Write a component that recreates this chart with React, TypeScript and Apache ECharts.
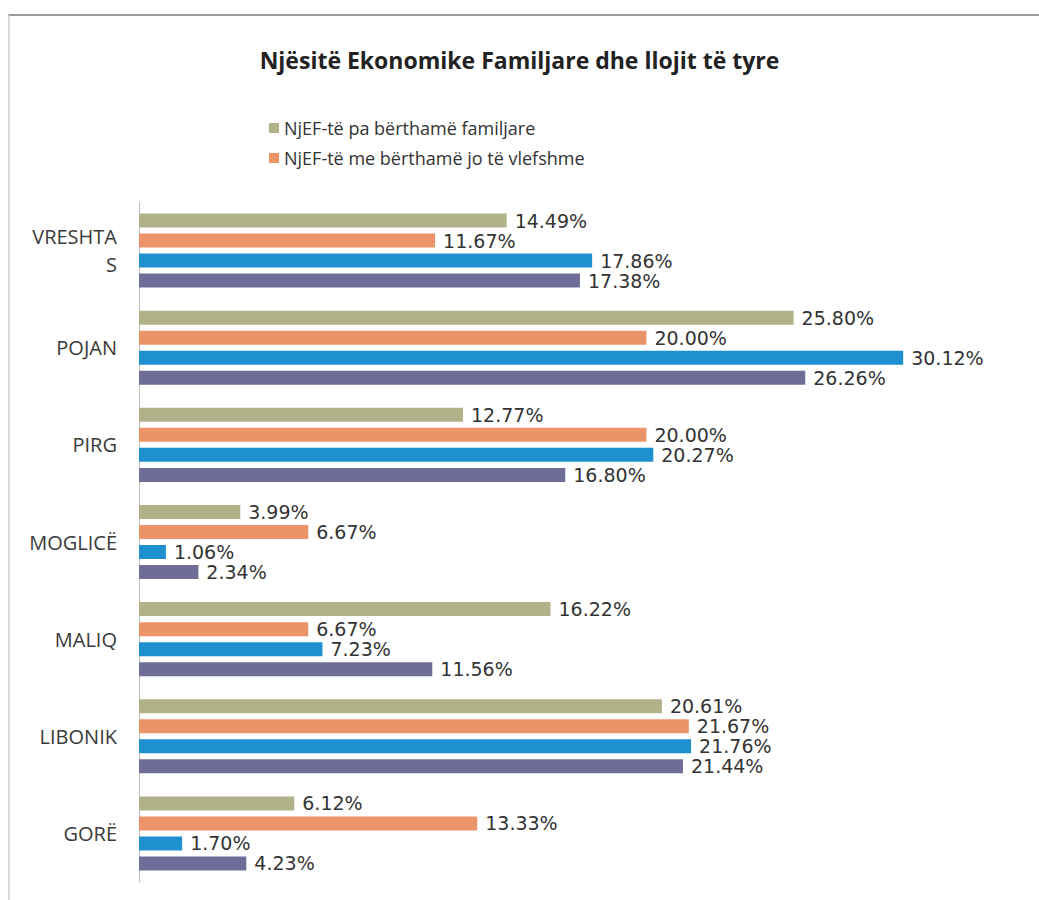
import React, { useEffect, useRef } from "react";
import * as echarts from "echarts";

const categories = ["VRESHTA\nS", "POJAN", "PIRG", "MOGLICË", "MALIQ", "LIBONIK", "GORË"];
const seriesNames = [
  "NjEF-të pa bërthamë familjare",
  "NjEF-të me bërthamë jo të vlefshme",
  "NjEF-të me një bërthamë familjare",
  "NjEF-të me më shumë bërthama familjare",
];
const seriesA = [14.49, 25.8, 12.77, 3.99, 16.22, 20.61, 6.12];
const seriesB = [11.67, 20.0, 20.0, 6.67, 6.67, 21.67, 13.33];
const seriesC = [17.86, 30.12, 20.27, 1.06, 7.23, 21.76, 1.7];
const seriesD = [17.38, 26.26, 16.8, 2.34, 11.56, 21.44, 4.23];
const colors = ["#b2b28a", "#ec9469", "#1f90cf", "#6d6d98"];
const title = "Njësitë Ekonomike Familjare dhe llojit të tyre";

export default function App() {
  const ref = useRef<HTMLDivElement>(null);
  useEffect(() => {
    if (!ref.current) return;
    const chart = echarts.init(ref.current, undefined, { renderer: "svg" });
    const all = [seriesA, seriesB, seriesC, seriesD];
    chart.setOption({
      animation: false,
      backgroundColor: "#ffffff",
      title: {
        text: title,
        left: "center",
        top: 43,
        textStyle: { fontFamily: "Open Sans", fontSize: 23, fontWeight: "bold", color: "#222" },
      },
      legend: {
        data: [seriesNames[0], seriesNames[1]],
        orient: "vertical",
        left: 264,
        top: 114,
        itemWidth: 10,
        itemHeight: 10,
        itemGap: 12,
        icon: "rect",
        textStyle: { fontFamily: "Open Sans", fontSize: 18, color: "#333" },
      },
      graphic: [
        { type: "line", shape: { x1: 8, y1: 15, x2: 1039, y2: 15 }, style: { stroke: "#9a9a9a", lineWidth: 2 } },
        { type: "line", shape: { x1: 9, y1: 15, x2: 9, y2: 900 }, style: { stroke: "#cccccc", lineWidth: 1.5 } },
      ],
      grid: { left: 139, right: 12, top: 202, bottom: 18, containLabel: false },
      xAxis: { type: "value", min: 0, max: 35, show: false },
      yAxis: {
        type: "category",
        data: categories,
        inverse: true,
        axisLine: { show: true, lineStyle: { color: "#bdbdbd", width: 1 } },
        axisTick: { show: false },
        axisLabel: {
          margin: 22,
          fontFamily: "Open Sans",
          fontSize: 20,
          color: "#3a3a3a",
          lineHeight: 28,
        },
      },
      series: all.map((d, i) => ({
        type: "bar",
        name: seriesNames[i],
        data: d,
        barWidth: 14,
        barGap: "43%",
        itemStyle: { color: colors[i] },
        label: {
          show: true,
          position: "right",
          distance: 8,
          formatter: (p: any) => p.value.toFixed(2) + "%",
          fontFamily: "DejaVu Sans",
          fontSize: 19,
          lineHeight: 18,
          color: "#333",
        },
      })),
    });
    return () => chart.dispose();
  }, []);
  return (
    <div
      ref={ref}
      style={{ position: "fixed", left: 0, top: 0, width: 1039, height: 900 }}
    />
  );
}
